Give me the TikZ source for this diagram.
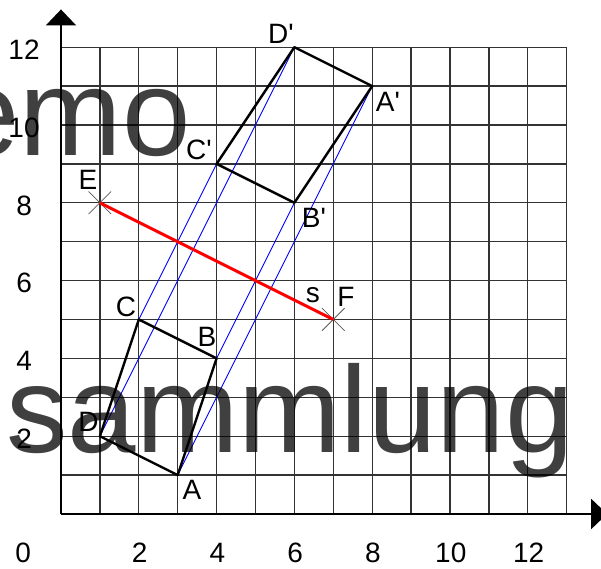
\documentclass[tikz,border=0pt]{standalone}
\usepackage{fontspec}
\newfontfamily\lblfont{Liberation Sans}
\usetikzlibrary{arrows.meta}
\begin{document}
\begin{tikzpicture}[x=38.9pt,y=38.9pt,
  gridline/.style={draw=black!80,line width=1.3pt},
  axisline/.style={line width=2pt,-{Triangle[length=16pt,width=30pt]}},
  figline/.style={line width=2.4pt,line join=round},
  perp/.style={blue,line width=0.9pt},
  redline/.style={red,line width=3pt},
  crossline/.style={draw=black!65,line width=0.8pt},
  lbl/.style={font=\lblfont\fontsize{28}{28}\selectfont,inner sep=0pt},
  wmark/.style={inner sep=0pt,font=\lblfont\fontsize{123}{123}\selectfont,text=black,text opacity=0.75}]
\useasboundingbox (-1.568,-1.414) rectangle (13.882,13.213);
\clip (-1.568,-1.414) rectangle (13.882,13.213);
% grid
\draw[gridline] (0,0) grid[step=1] (13,12);
% axes
\coordinate (O) at (0,0);
\coordinate (xtip) at (14.04,0);
\coordinate (ytip) at (0,12.97);
\draw[axisline] (O) -- (xtip);
\draw[axisline] (O) -- (ytip);
% tick labels
\node[lbl] (x0) at (-0.97,-1.0) {0};
\foreach \v in {2,4,6,8,10,12}{
  \node[lbl] (x\v) at (\v+0.02,-1.0) {\v};
  \node[lbl] (y\v) at (-0.95,\v-0.07) {\v};
}
% points
\coordinate (A) at (3,1);
\coordinate (B) at (4,4);
\coordinate (C) at (2,5);
\coordinate (D) at (1,2);
\coordinate (Ap) at (8,11);
\coordinate (Bp) at (6,8);
\coordinate (Cp) at (4,9);
\coordinate (Dp) at (6,12);
\coordinate (E) at (1,8);
\coordinate (F) at (7,5);
% crosses
\draw[crossline] (E) +(-.29,-.29) -- +(.29,.29) (E) +(-.29,.29) -- +(.29,-.29);
\draw[crossline] (F) +(-.29,-.29) -- +(.29,.29) (F) +(-.29,.29) -- +(.29,-.29);
% perpendiculars
\draw[perp] (A) -- (Ap);
\draw[perp] (B) -- (Bp);
\draw[perp] (C) -- (Cp);
\draw[perp] (D) -- (Dp);
% axis s
\draw[redline] (E) -- (F);
% figures
\draw[figline] (A) -- (B) -- (C) -- (D) -- cycle;
\draw[figline] (Ap) -- (Bp) -- (Cp) -- (Dp) -- cycle;
% labels
\node[lbl] (lA) at (3.368,0.617) {A};
\node[lbl] (lB) at (3.753,4.550) {B};
\node[lbl] (lC) at (1.671,5.321) {C};
\node[lbl] (lD) at (0.707,2.365) {D};
\node[lbl] (lE) at (0.694,8.586) {E};
\node[lbl] (lF) at (7.326,5.578) {F};
\node[lbl] (ls) at (6.478,5.630) {s};
\node[lbl] (lAp) at (8.406,10.591) {A'};
\node[lbl] (lBp) at (6.504,7.609) {B'};
\node[lbl] (lCp) at (3.548,9.357) {C'};
\node[lbl] (lDp) at (5.656,12.352) {D'};
% watermark
\node[wmark,anchor=base east] (wm1) at (3.342,9.203) {demo};
\node[wmark,anchor=base west] (wm2) at (-1.414,1.568) {sammlung};
\end{tikzpicture}
\end{document}
